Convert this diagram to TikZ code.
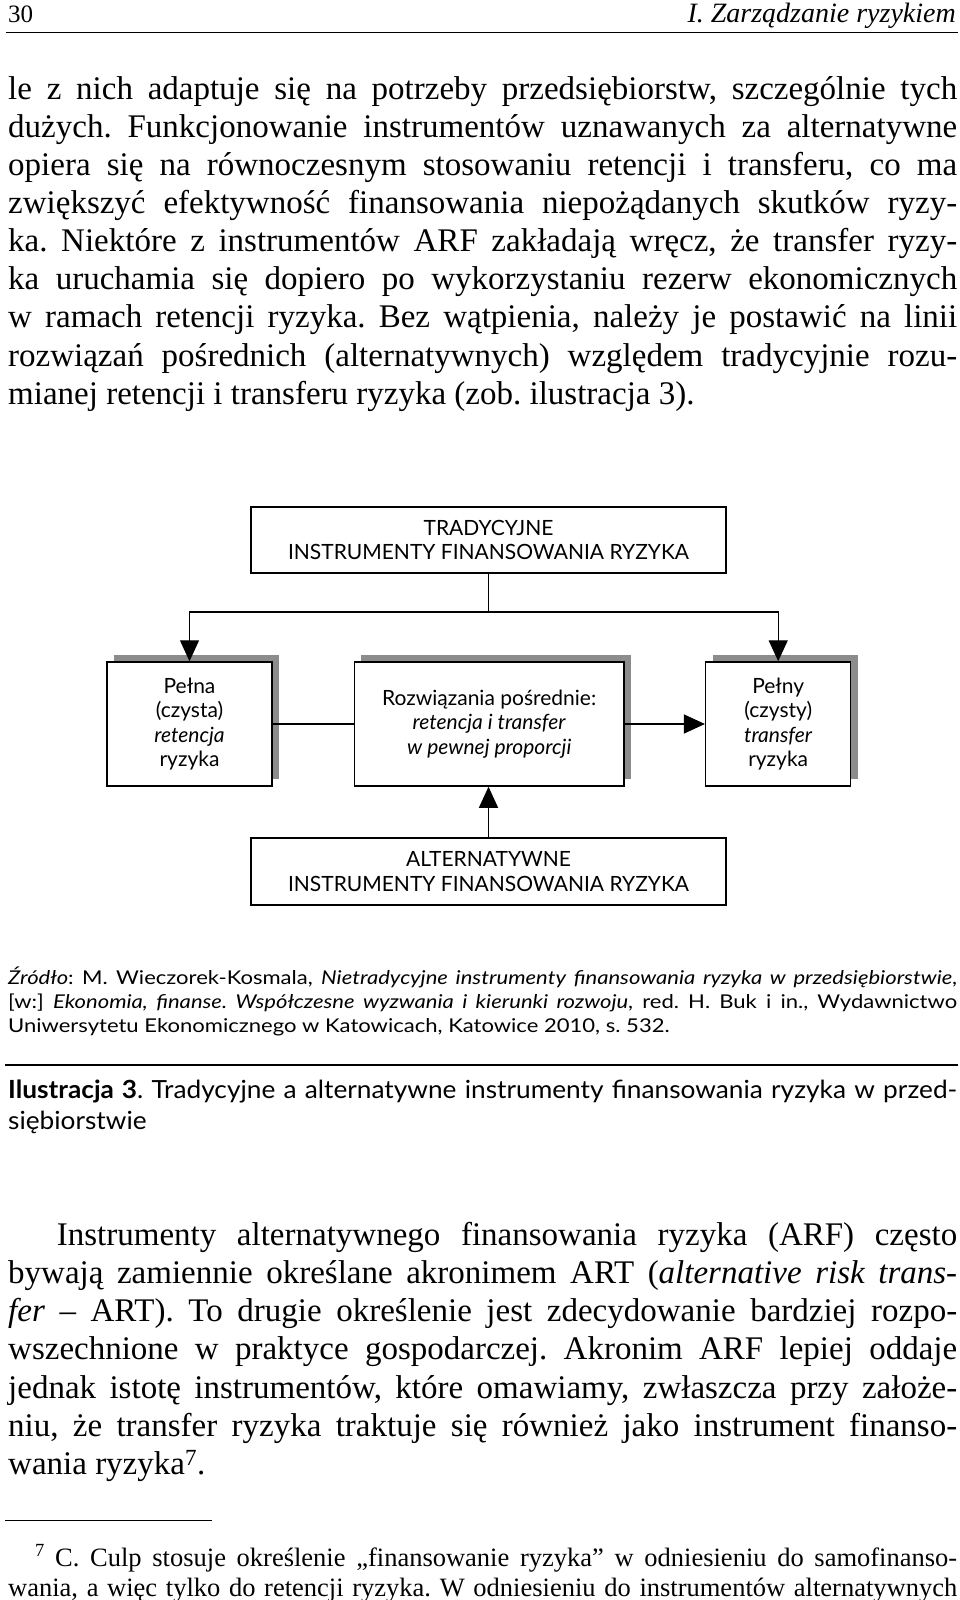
\documentclass[tikz,border=0pt]{standalone}
\usepackage{fontspec}
\setmainfont{Liberation Serif}
\newfontfamily\diagfont{Lato}
\newfontfamily\srcfont{Lato}[FakeStretch=1.16]
\newfontfamily\captfont{Lato}[FakeStretch=1.05]
\usetikzlibrary{arrows.meta,shadows}
\frenchspacing

\begin{document}
\begin{tikzpicture}[x=1pt,y=-1pt,
    txt/.style={anchor=base west,inner sep=0pt},
    body/.style={txt,font=\fontsize{33}{38}\selectfont},
    note/.style={txt,font=\fontsize{26.5}{30}\selectfont},
    src/.style={txt,font=\srcfont\fontsize{19}{22}\selectfont},
    capt/.style={txt,font=\captfont\fontsize{25}{30}\selectfont},
    ibox/.style={draw,line width=1.5pt,fill=white,align=center,inner sep=0pt,
      font=\diagfont\fontsize{21}{24.5}\selectfont},
    shadowed/.style={drop shadow={shadow xshift=7pt,shadow yshift=7pt,fill=black!45,opacity=1}},
    link/.style={line width=1.3pt},
    arr/.style={link,-{Triangle[length=21pt,width=19pt]}}]
    \useasboundingbox (0,0) rectangle (960,1600);
    % running head
    \node[txt,font=\fontsize{25}{30}\selectfont] (pageno) at (8,22.7) {30};
    \node[anchor=base east,inner sep=0pt,font=\fontsize{28}{30}\selectfont\itshape] (runhead) at (956,22.7) {I. Zarządzanie ryzykiem};
    \draw[line width=1.2pt] (6,32.7) -- (958,32.7);
    %% first paragraph
    \node[body] (pa1) at (8,99.3)  {\makebox[949pt][s]{le z nich adaptuje się na potrzeby przedsiębiorstw, szczególnie tych}};
    \node[body] (pa2) at (8,137.4) {\makebox[949pt][s]{dużych. Funkcjonowanie instrumentów uznawanych za alternatywne}};
    \node[body] (pa3) at (8,175.5) {\makebox[949pt][s]{opiera się na równoczesnym stosowaniu retencji i transferu, co ma}};
    \node[body] (pa4) at (8,213.6) {\makebox[949pt][s]{zwiększyć efektywność finansowania niepożądanych skutków ryzy-}};
    \node[body] (pa5) at (8,251.7) {\makebox[949pt][s]{ka. Niektóre z instrumentów ARF zakładają wręcz, że transfer ryzy-}};
    \node[body] (pa6) at (8,289.8) {\makebox[949pt][s]{ka uruchamia się dopiero po wykorzystaniu rezerw ekonomicznych}};
    \node[body] (pa7) at (8,327.9) {\makebox[949pt][s]{w ramach retencji ryzyka. Bez wątpienia, należy je postawić na linii}};
    \node[body] (pa8) at (8,366)   {\makebox[949pt][s]{rozwiązań pośrednich (alternatywnych) względem tradycyjnie rozu-}};
    \node[body] (pa9) at (8,404.1) {mianej retencji i transferu ryzyka (zob. ilustracja 3).};
    %% the figure
    \node[ibox,minimum width=475pt,minimum height=66pt] (trad) at (488.5,540) {TRADYCYJNE\\INSTRUMENTY FINANSOWANIA RYZYKA};
    \node[ibox,shadowed,minimum width=165pt,minimum height=124pt] (ret) at (189.5,724) {Pełna\\(czysta)\\\textit{retencja}\\ryzyka};
    \node[ibox,shadowed,minimum width=269.5pt,minimum height=124pt] (mid) at (489.2,724) {Rozwiązania pośrednie:\\\textit{retencja i transfer}\\\textit{w pewnej proporcji}};
    \node[ibox,shadowed,minimum width=145pt,minimum height=124pt] (trans) at (778.2,724) {Pełny\\(czysty)\\\textit{transfer}\\ryzyka};
    \node[ibox,minimum width=475pt,minimum height=67pt] (alt) at (488.5,871.5) {ALTERNATYWNE\\INSTRUMENTY FINANSOWANIA RYZYKA};
    \coordinate (split) at (trad.south |- 0,612);
    \draw[link] (trad.south) -- (split);
    \draw[arr] (split) -| (ret.north);
    \draw[arr] (split) -| (trans.north);
    \draw[link] (ret) -- (mid);
    \draw[arr] (mid) -- (trans);
    \draw[arr] (alt.north) -- (alt.north |- mid.south);
    %% source and caption
    \node[src] (src1) at (8,984)  {\makebox[949pt][s]{\textit{Źródło}: M. Wieczorek-Kosmala, \textit{Nietradycyjne instrumenty finansowania ryzyka w przedsiębiorstwie},}};
    \node[src] (src2) at (8,1008) {\makebox[949pt][s]{[w:] \textit{Ekonomia, finanse. Współczesne wyzwania i kierunki rozwoju}, red. H. Buk i in., Wydawnictwo}};
    \node[src] (src3) at (8,1032) {Uniwersytetu Ekonomicznego w Katowicach, Katowice 2010, s. 532.};
    \draw[line width=1.2pt] (5,1065) -- (958,1065);
    \node[capt] (cap1) at (8,1098) {\makebox[949pt][s]{\textbf{Ilustracja 3}. Tradycyjne a alternatywne instrumenty finansowania ryzyka w przed-}};
    \node[capt] (cap2) at (8,1129) {siębiorstwie};
    %% second paragraph
    \node[body] (pb1) at (56.7,1245) {\makebox[900.3pt][s]{Instrumenty alternatywnego finansowania ryzyka (ARF) często}};
    \node[body] (pb2) at (8,1283.3) {\makebox[949pt][s]{bywają zamiennie określane akronimem ART (\textit{alternative risk trans-}}};
    \node[body] (pb3) at (8,1321.6) {\makebox[949pt][s]{\textit{fer} – ART). To drugie określenie jest zdecydowanie bardziej rozpo-}};
    \node[body] (pb4) at (8,1359.9) {\makebox[949pt][s]{wszechnione w praktyce gospodarczej. Akronim ARF lepiej oddaje}};
    \node[body] (pb5) at (8,1398.2) {\makebox[949pt][s]{jednak istotę instrumentów, które omawiamy, zwłaszcza przy założe-}};
    \node[body] (pb6) at (8,1436.5) {\makebox[949pt][s]{niu, że transfer ryzyka traktuje się również jako instrument finanso-}};
    \node[body] (pb7) at (8,1474.8) {wania ryzyka\textsuperscript{7}.};
    %% footnote
    \draw[line width=1.2pt] (5,1520.7) -- (212,1520.7);
    \node[note] (fnmark) at (35,1566) {\textsuperscript{7}};
    \node[note] (fn1) at (55,1566) {\makebox[902pt][s]{C. Culp stosuje określenie „finansowanie ryzyka” w odniesieniu do samofinanso-}};
    \node[note] (fn2) at (8,1596) {\makebox[949pt][s]{wania, a więc tylko do retencji ryzyka. W odniesieniu do instrumentów alternatywnych}};
\end{tikzpicture}
\end{document}
